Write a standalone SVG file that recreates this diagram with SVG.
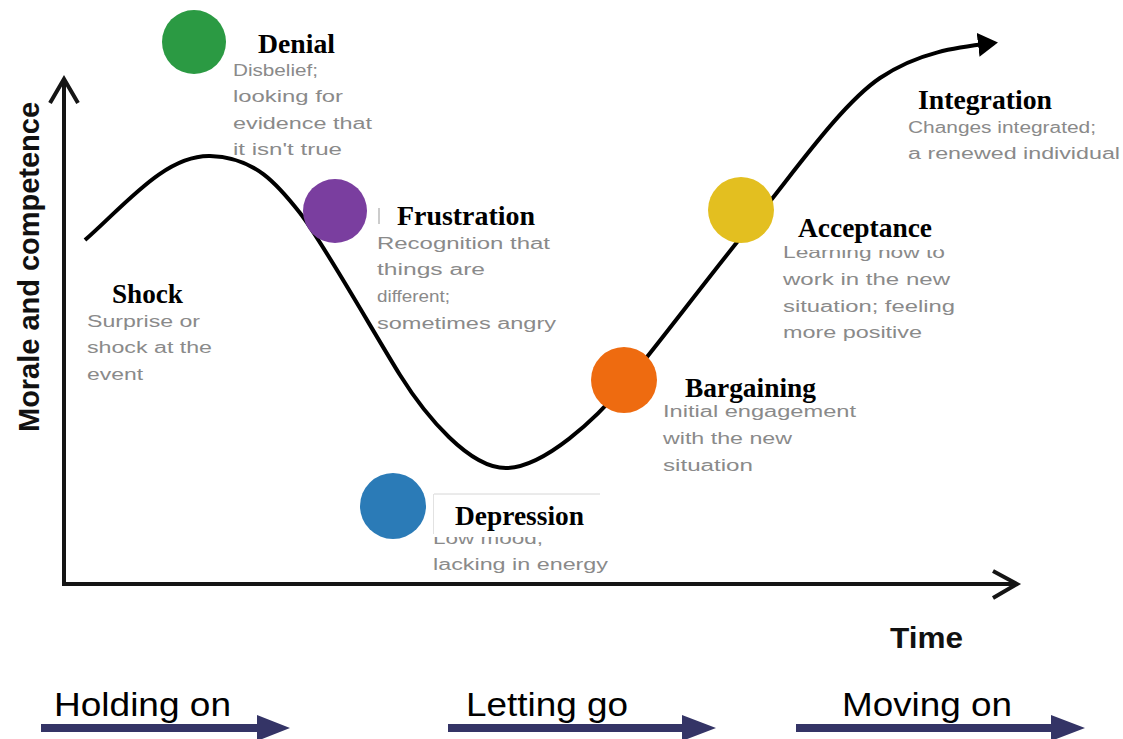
<svg xmlns="http://www.w3.org/2000/svg" width="1123" height="739" viewBox="0 0 1123 739">
<defs>
<style>
.title{font-family:"Liberation Serif","Times New Roman",serif;font-weight:bold;font-size:27px;fill:#000}
.desc{font-family:"Liberation Sans",Arial,sans-serif;font-size:16px;fill:#8a8a8a}
.axis{stroke:#151515;stroke-width:4;fill:none}
.curve{stroke:#000;stroke-width:4;fill:none}
.phase{font-family:"Liberation Sans",Arial,sans-serif;font-size:34px;fill:#000}
.parrow{fill:#343466}
.mask{fill:#fff}
</style>
<marker id="curveHead" markerWidth="6" markerHeight="6" refX="4" refY="3" orient="auto" markerUnits="strokeWidth">
<path d="M0,0 L5,3 L0,6 Z" fill="#000"/>
</marker>
</defs>
<rect width="1123" height="739" fill="#fff"/>

<g id="axes">
<path class="axis" d="M64,585 L64,79"/>
<path class="axis" d="M50,103 L64,79 L78,103"/>
<path class="axis" d="M62,584 L1016,584"/>
<path class="axis" d="M993,571 L1017,584 L993,598"/>
<text x="39" y="267" transform="rotate(-90 39 267)" text-anchor="middle" font-family="Liberation Sans, Arial, sans-serif" font-weight="bold" font-size="29" fill="#111" textLength="330" lengthAdjust="spacingAndGlyphs">Morale and competence</text>
<text x="890" y="648" font-family="Liberation Sans, Arial, sans-serif" font-weight="bold" font-size="29" fill="#111" textLength="73" lengthAdjust="spacingAndGlyphs">Time</text>
</g>

<g id="connectors">
<path class="curve" marker-end="url(#curveHead)" d="M85,240 C125,205 165,155 210,156 C255,157 278,185 300,213 C322,241 375,335 400,375 C425,415 470,470 508,468 C545,466 595,420 626,383 C657,346 720,262 755,220 C790,178 840,105 880,78 C920,51 960,47 994,43"/>
</g>

<g id="denial">
<circle cx="194" cy="42" r="32" fill="#2b9a43"/>
<text class="desc" x="233" y="76" textLength="85" lengthAdjust="spacingAndGlyphs">Disbelief;</text>
<text class="desc" x="233" y="102" textLength="110" lengthAdjust="spacingAndGlyphs">looking for</text>
<text class="desc" x="233" y="129" textLength="139" lengthAdjust="spacingAndGlyphs">evidence that</text>
<text class="desc" x="233" y="155" textLength="109" lengthAdjust="spacingAndGlyphs">it isn't true</text>
<text class="title" x="258" y="53" textLength="77" lengthAdjust="spacingAndGlyphs">Denial</text>
</g>

<g id="frustration">
<circle cx="335" cy="211" r="32" fill="#7a3e9f"/>
<line x1="379" y1="208" x2="379" y2="224" stroke="#bbb" stroke-width="1.5"/>
<text class="desc" x="377" y="249" textLength="173" lengthAdjust="spacingAndGlyphs">Recognition that</text>
<text class="desc" x="377" y="275" textLength="108" lengthAdjust="spacingAndGlyphs">things are</text>
<text class="desc" x="377" y="302" textLength="73" lengthAdjust="spacingAndGlyphs">different;</text>
<text class="desc" x="377" y="329" textLength="179" lengthAdjust="spacingAndGlyphs">sometimes angry</text>
<text class="title" x="397" y="225" textLength="138" lengthAdjust="spacingAndGlyphs">Frustration</text>
</g>

<g id="shock">
<text class="desc" x="87" y="327" textLength="113" lengthAdjust="spacingAndGlyphs">Surprise or</text>
<text class="desc" x="87" y="353" textLength="125" lengthAdjust="spacingAndGlyphs">shock at the</text>
<text class="desc" x="87" y="380" textLength="56" lengthAdjust="spacingAndGlyphs">event</text>
<text class="title" x="112" y="303" textLength="71" lengthAdjust="spacingAndGlyphs">Shock</text>
</g>

<g id="depression">
<circle cx="393" cy="506" r="33" fill="#2b7bb7"/>
<text class="desc" x="433" y="544" textLength="110" lengthAdjust="spacingAndGlyphs">Low mood,</text>
<text class="desc" x="433" y="570" textLength="175" lengthAdjust="spacingAndGlyphs">lacking in energy</text>
<rect class="mask" x="433" y="494" width="170" height="43"/>
<line x1="434" y1="494" x2="600" y2="494" stroke="#d6d6d6" stroke-width="1"/>
<line x1="433.5" y1="494" x2="433.5" y2="534" stroke="#e2e2e2" stroke-width="1"/>
<text class="title" x="455" y="525" textLength="129" lengthAdjust="spacingAndGlyphs">Depression</text>
</g>

<g id="bargaining">
<circle cx="624" cy="380" r="33" fill="#ee6b10"/>
<text class="desc" x="663" y="417" textLength="193" lengthAdjust="spacingAndGlyphs">Initial engagement</text>
<text class="desc" x="663" y="444" textLength="129" lengthAdjust="spacingAndGlyphs">with the new</text>
<text class="desc" x="663" y="471" textLength="90" lengthAdjust="spacingAndGlyphs">situation</text>
<text class="title" x="685" y="397" textLength="131" lengthAdjust="spacingAndGlyphs">Bargaining</text>
</g>

<g id="acceptance">
<circle cx="741" cy="210" r="33" fill="#e3bf20"/>
<text class="desc" x="783" y="258" textLength="162" lengthAdjust="spacingAndGlyphs">Learning now to</text>
<text class="desc" x="783" y="285" textLength="167" lengthAdjust="spacingAndGlyphs">work in the new</text>
<text class="desc" x="783" y="312" textLength="172" lengthAdjust="spacingAndGlyphs">situation; feeling</text>
<text class="desc" x="783" y="338" textLength="139" lengthAdjust="spacingAndGlyphs">more positive</text>
<rect class="mask" x="795" y="212" width="145" height="38"/>
<text class="title" x="798" y="237" textLength="134" lengthAdjust="spacingAndGlyphs">Acceptance</text>
</g>

<g id="integration">
<text class="desc" x="908" y="133" textLength="188" lengthAdjust="spacingAndGlyphs">Changes integrated;</text>
<text class="desc" x="908" y="159" textLength="212" lengthAdjust="spacingAndGlyphs">a renewed individual</text>
<text class="title" x="918" y="109" textLength="134" lengthAdjust="spacingAndGlyphs">Integration</text>
</g>

<g id="holding-on">
<text class="phase" x="54" y="716" textLength="177" lengthAdjust="spacingAndGlyphs">Holding on</text>
<path class="parrow" d="M41,724 L257,724 L257,715 L290,728 L257,741 L257,732 L41,732 Z"/>
</g>
<g id="letting-go">
<text class="phase" x="466" y="716" textLength="162" lengthAdjust="spacingAndGlyphs">Letting go</text>
<path class="parrow" d="M448,724 L682,724 L682,715 L716,728 L682,741 L682,732 L448,732 Z"/>
</g>
<g id="moving-on">
<text class="phase" x="842" y="716" textLength="170" lengthAdjust="spacingAndGlyphs">Moving on</text>
<path class="parrow" d="M796,724 L1051,724 L1051,715 L1085,728 L1051,741 L1051,732 L796,732 Z"/>
</g>
</svg>
